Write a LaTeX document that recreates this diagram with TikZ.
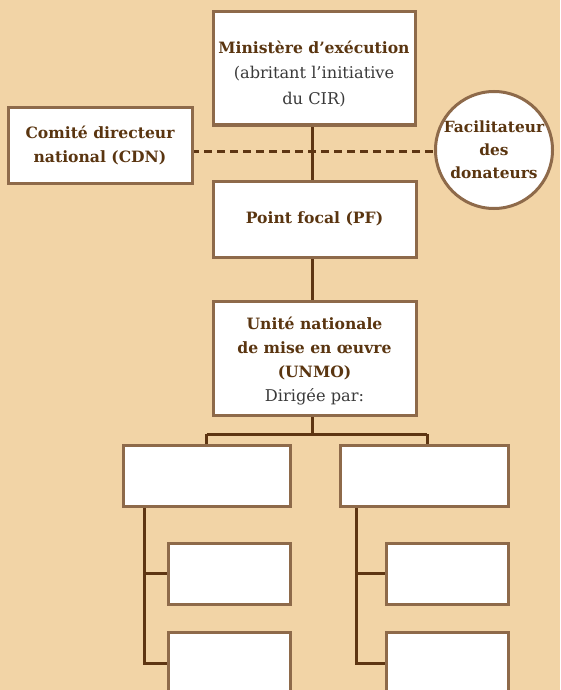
\documentclass[tikz,border=0pt]{standalone}
\usepackage{fontspec}
\setmainfont{DejaVu Serif}
\usetikzlibrary{backgrounds}
\begin{document}
\definecolor{bg}{HTML}{F2D4A6}
\definecolor{boxline}{HTML}{8E6A4A}
\definecolor{conn}{HTML}{5E3512}
\definecolor{titletxt}{HTML}{5A3510}
\definecolor{plaintxt}{HTML}{3A3A3A}
\newcommand{\bt}[1]{\textcolor{titletxt}{\bfseries #1}}
\newcommand{\pt}[1]{\textcolor{plaintxt}{\fontsize{16.2}{22}\selectfont #1}}
\begin{tikzpicture}[x=1pt,y=-1pt,
  box/.style={draw=boxline,line width=3pt,fill=white,rectangle,inner sep=2pt,align=center,font=\fontsize{15.6}{23.5}\selectfont},
  txt/.style={inner sep=0pt,align=center,font=\fontsize{15.6}{25.5}\selectfont},
  circ/.style={draw=boxline,line width=3pt,fill=white,circle,inner sep=0pt,align=center,minimum size=117pt,font=\fontsize{15.4}{23}\selectfont},
  link/.style={draw=conn,line width=3pt},
  dlink/.style={draw=conn,line width=3pt,dash pattern=on 8pt off 5pt}]
\useasboundingbox (0,0) rectangle (560,690);
\clip (0,0) rectangle (560,690);
% nodes
\node[box,minimum width=202pt,minimum height=113pt] (min) at (314,68.5) {};
\node[txt] (mintxt) at (314,74)
  {\bt{Ministère d’exécution}\\\pt{(abritant l’initiative}\\\pt{du CIR)}};
\node[box,minimum width=184pt,minimum height=75pt] (cdn) at (100,145.5)
  {\bt{Comité directeur}\\\bt{national (CDN)}};
\node[circ] (fac) at (494,150)
  {\bt{Facilitateur}\\\bt{des}\\\bt{donateurs}};
\node[box,minimum width=203pt,minimum height=76pt] (pf) at (314.5,219)
  {\bt{Point focal (PF)}};
\node[box,minimum width=203pt,minimum height=114pt] (unmo) at (314.5,358) {};
\node[txt,font=\fontsize{15.6}{24}\selectfont] (unmotxt) at (314.5,361)
  {\bt{Unité nationale}\\\bt{de mise en œuvre}\\\bt{(UNMO)}\\\pt{Dirigée par:}};
\node[box,minimum width=167pt,minimum height=61pt] (lb) at (206.5,475.5) {};
\node[box,minimum width=168pt,minimum height=61pt] (rb) at (424,475.5) {};
\node[box,minimum width=122pt,minimum height=61pt] (ls1) at (229,573.5) {};
\node[box,minimum width=122pt,minimum height=62pt] (ls2) at (229,663) {};
\node[box,minimum width=122pt,minimum height=61pt] (rs1) at (447,573.5) {};
\node[box,minimum width=122pt,minimum height=62pt] (rs2) at (447,663) {};
% coordinates
\coordinate (ta) at (312.5,68);
\coordinate (tb) at (312.5,434);
\coordinate (bl) at (206.5,434);
\coordinate (brr) at (427,434);
\coordinate (lt) at (144,476);
\coordinate (lm) at (144,573.5);
\coordinate (lbend) at (144,663);
\coordinate (rt) at (356,476);
\coordinate (rm) at (356,573.5);
\coordinate (rbend) at (356,663);
\coordinate (dl) at (100,151);
\coordinate (dr) at (494,151);
\begin{scope}[on background layer]
\fill[bg] (0,0) rectangle (560,690);
\path[dlink] (dl) -- (dr);
\path[link] (ta) -- (tb);
\path[link] (bl) -- (brr);
\path[link] (bl) -- (lb.center);
\path[link] (brr) -- (brr |- rb.center);
\path[link] (lt) -- (lbend) -- (ls2.center);
\path[link] (lm) -- (ls1.center);
\path[link] (rt) -- (rbend) -- (rs2.center);
\path[link] (rm) -- (rs1.center);
\end{scope}
\end{tikzpicture}
\end{document}
